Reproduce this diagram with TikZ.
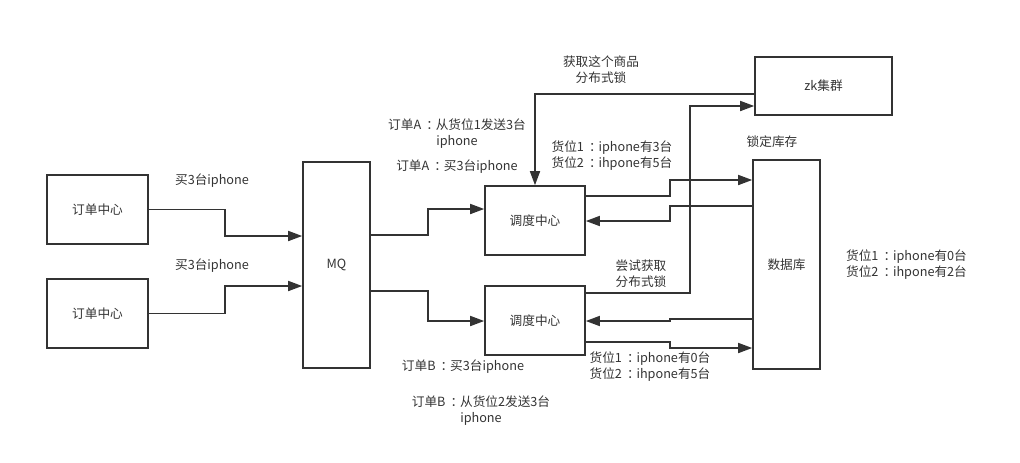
\documentclass[tikz,border=0pt]{standalone}
\usepackage{fontspec}
\setmainfont{Noto Sans CJK SC}
\usetikzlibrary{arrows.meta}

\tikzset{every picture/.style={line width=1.2pt}}
\definecolor{inkgray}{RGB}{51,51,51}
\newcommand{\fwcolon}{\hspace{0.4em}：\hspace{-0.25em}}
\tikzset{
  box/.style={draw=inkgray, inner sep=0pt, align=center, text=inkgray},
  conn/.style={draw=inkgray, -{Triangle[length=10.5pt,width=7.5pt]}},
  lbl/.style={align=center, text=inkgray, inner sep=0pt}
}

\begin{document}
\begin{tikzpicture}[x=0.75pt,y=0.75pt,yscale=-1,xscale=1,font=\fontsize{9.5}{12}\selectfont]
\useasboundingbox (0,0) rectangle (1020,462);

%Shape: order centres
\node[box, minimum width=75.75pt, minimum height=51.75pt] (orderA) at (97.5,209.5) {订单中心};
\node[box, minimum width=75.75pt, minimum height=51.75pt] (orderB) at (97.5,313.5) {订单中心};
%Shape: MQ
\node[box, minimum width=50.25pt, minimum height=154.5pt] (mq) at (336.5,265) {MQ};
%Shape: dispatch centres
\node[box, minimum width=75pt, minimum height=51.75pt] (dispA) at (535,220.5) {调度中心};
\node[box, minimum width=75pt, minimum height=51.75pt] (dispB) at (535,320.5) {调度中心};
%Shape: zk cluster
\node[box, minimum width=102.75pt, minimum height=43.5pt] (zk) at (823.5,86) {zk集群};
%Shape: database
\node[box, minimum width=50.25pt, minimum height=156.75pt] (db) at (786.5,264.5) {数据库};

%Straight Lines: orders to MQ
\draw[conn] (orderA.east) -- (225,209.5) -- (225,236) -- (mq.west |- 0,236);
\draw[conn] (orderB.east) -- (225,313.5) -- (225,286) -- (mq.west |- 0,286);
%Straight Lines: MQ to dispatch
\draw[conn] (mq.east |- 0,235) -- (428,235) -- (428,209) -- (dispA.west |- 0,209);
\draw[conn] (mq.east |- 0,291) -- (428,291) -- (428,321) -- (dispB.west |- 0,321);
%Straight Lines: lock
\draw[conn] (zk.west |- 0,94) -- (535,94) -- (dispA.north);
\draw[conn] (dispB.east |- 0,293) -- (690,293) -- (690,106) -- (zk.west |- 0,106);
%Straight Lines: dispatch and database
\draw[conn] (dispA.east |- 0,196) -- (670,196) -- (670,180) -- (db.west |- 0,180);
\draw[conn] (db.west |- 0,206) -- (670,206) -- (670,221) -- (dispA.east |- 0,221);
\draw[conn] (db.west |- 0,319) -- (670,319) -- (670,321) -- (dispB.east |- 0,321);
\draw[conn] (dispB.east |- 0,342) -- (670,342) -- (670,348) -- (db.west |- 0,348);

% Text Node
\node[lbl] (buyA) at (212,181) {买3台iphone};
% Text Node
\node[lbl] (buyB) at (212,266) {买3台iphone};
% Text Node
\node[lbl] (getLock) at (601,69.5) {获取这个商品\\分布式锁};
% Text Node
\node[lbl] (shipA) at (457,134) {订单A\fwcolon 从货位1发送3台\\iphone};
% Text Node
\node[lbl] (orderAbuy) at (457,167) {订单A\fwcolon 买3台iphone};
% Text Node
\node[lbl] (stockA) at (612,156) {货位1\fwcolon iphone有3台\\货位2\fwcolon ihpone有5台};
% Text Node
\node[lbl] (lockStock) at (772,142) {锁定库存};
% Text Node
\node[lbl] (tryLock) at (641,274) {尝试获取\\分布式锁};
% Text Node
\node[lbl] (stockB) at (650,366.5) {货位1\fwcolon iphone有0台\\货位2\fwcolon ihpone有5台};
% Text Node
\node[lbl] (orderBbuy) at (463,367) {订单B\fwcolon 买3台iphone};
% Text Node
\node[lbl] (shipB) at (481,410.5) {订单B\fwcolon 从货位2发送3台\\iphone};
% Text Node
\node[lbl] (stockDb) at (906.5,265) {货位1\fwcolon iphone有0台\\货位2\fwcolon ihpone有2台};

\end{tikzpicture}
\end{document}
